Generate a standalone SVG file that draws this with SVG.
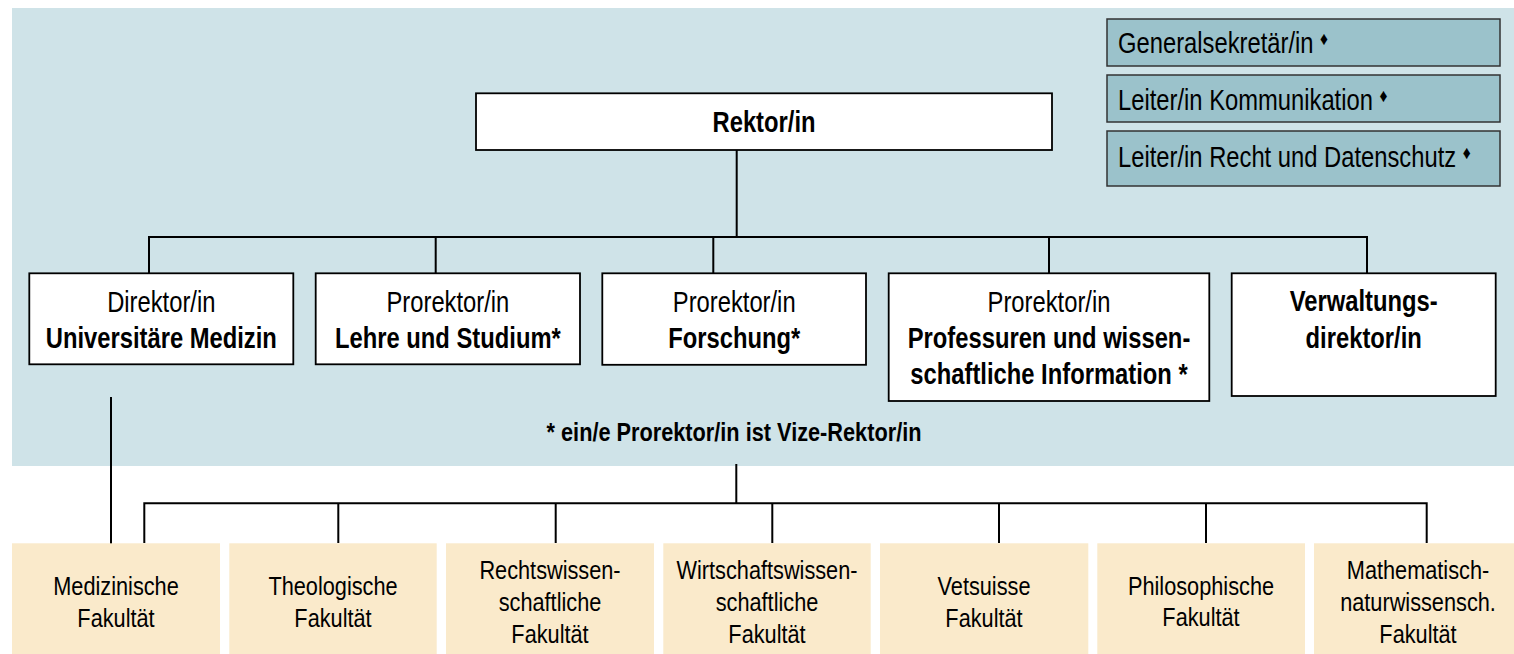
<svg xmlns="http://www.w3.org/2000/svg" width="1514" height="654" viewBox="0 0 1514 654">
<style>
text{font-family:'Liberation Sans',Arial,sans-serif;fill:#000}
.c{text-anchor:middle}
.b{font-weight:bold}
.m{font-size:29px}
.f{font-size:26.5px}
.box{fill:#fff;stroke:#000;stroke-width:1.8}
.side{fill:#9bc2cb;stroke:#333;stroke-width:1.5}
.fac{fill:#faeacb}
.ln{fill:none;stroke:#000;stroke-width:2}
.dia{font-size:19px}
</style>
<rect x="12" y="8" width="1510" height="458" fill="#cfe3e8"/>
<g id="connectors">
<path class="ln" d="M736.7 150V237M149 273V237H1367V273M435.7 237V273M713.3 237V273M1049 237V273"/>
<path class="ln" d="M111 397V545"/>
<path class="ln" d="M736.3 464V503.3M144.3 543V503.3H1426.7V543M338.3 503.3V543M555.7 503.3V543M772.3 503.3V543M999 503.3V543M1206 503.3V543"/>
</g>
<g id="generalsekretaer">
<rect class="side" x="1107" y="19" width="393" height="47"/>
<text class="m" transform="translate(1118,53) scale(0.82,1)">Generalsekretär/in <tspan class="dia" dy="-8">♦</tspan></text>
</g>
<g id="kommunikation">
<rect class="side" x="1107" y="75" width="393" height="47"/>
<text class="m" transform="translate(1118,110) scale(0.82,1)">Leiter/in Kommunikation <tspan class="dia" dy="-8">♦</tspan></text>
</g>
<g id="recht">
<rect class="side" x="1107" y="131" width="393" height="55"/>
<text class="m" transform="translate(1118,167) scale(0.82,1)">Leiter/in Recht und Datenschutz <tspan class="dia" dy="-8">♦</tspan></text>
</g>
<g id="rektor">
<rect class="box" x="476" y="93.3" width="576" height="56.7"/>
<text class="m b c" transform="translate(764,132) scale(0.82,1)">Rektor/in</text>
</g>
<g id="direktor-medizin">
<rect class="box" x="29.3" y="273.3" width="264" height="91"/>
<text class="m c" transform="translate(161.3,312.3) scale(0.82,1)">Direktor/in</text>
<text class="m b c" transform="translate(161.3,348.3) scale(0.82,1)">Universitäre Medizin</text>
</g>
<g id="prorektor-lehre">
<rect class="box" x="315.7" y="273.3" width="264.3" height="91"/>
<text class="m c" transform="translate(447.9,312.3) scale(0.82,1)">Prorektor/in</text>
<text class="m b c" transform="translate(447.9,348.3) scale(0.82,1)">Lehre und Studium*</text>
</g>
<g id="prorektor-forschung">
<rect class="box" x="602.3" y="273.3" width="263.7" height="91.5"/>
<text class="m c" transform="translate(734.2,312.3) scale(0.82,1)">Prorektor/in</text>
<text class="m b c" transform="translate(734.2,348.3) scale(0.82,1)">Forschung*</text>
</g>
<g id="prorektor-professuren">
<rect class="box" x="888.7" y="273.3" width="320.6" height="127.7"/>
<text class="m c" transform="translate(1049,312.3) scale(0.82,1)">Prorektor/in</text>
<text class="m b c" transform="translate(1049,348.3) scale(0.82,1)">Professuren und wissen-</text>
<text class="m b c" transform="translate(1049,384.3) scale(0.82,1)">schaftliche Information *</text>
</g>
<g id="verwaltungsdirektor">
<rect class="box" x="1231.7" y="273.3" width="264" height="122.7"/>
<text class="m b c" transform="translate(1363.7,310.7) scale(0.82,1)">Verwaltungs-</text>
<text class="m b c" transform="translate(1363.7,347.7) scale(0.82,1)">direktor/in</text>
</g>
<g id="footnote">
<text class="b c" style="font-size:26.5px" transform="translate(734,441) scale(0.82,1)">* ein/e Prorektor/in ist Vize-Rektor/in</text>
</g>
<g id="fak-medizin">
<rect class="fac" x="12" y="543.3" width="208" height="112"/>
<text class="f c" transform="translate(116,595) scale(0.82,1)">Medizinische</text>
<text class="f c" transform="translate(116,626.7) scale(0.82,1)">Fakultät</text>
</g>
<g id="fak-theologie">
<rect class="fac" x="229.3" y="543.3" width="207.4" height="112"/>
<text class="f c" transform="translate(333,595) scale(0.82,1)">Theologische</text>
<text class="f c" transform="translate(333,626.7) scale(0.82,1)">Fakultät</text>
</g>
<g id="fak-recht">
<rect class="fac" x="446" y="543.3" width="208" height="112"/>
<text class="f c" transform="translate(550,579) scale(0.82,1)">Rechtswissen-</text>
<text class="f c" transform="translate(550,611) scale(0.82,1)">schaftliche</text>
<text class="f c" transform="translate(550,643) scale(0.82,1)">Fakultät</text>
</g>
<g id="fak-wirtschaft">
<rect class="fac" x="663.3" y="543.3" width="207.4" height="112"/>
<text class="f c" transform="translate(767,579) scale(0.82,1)">Wirtschaftswissen-</text>
<text class="f c" transform="translate(767,611) scale(0.82,1)">schaftliche</text>
<text class="f c" transform="translate(767,643) scale(0.82,1)">Fakultät</text>
</g>
<g id="fak-vetsuisse">
<rect class="fac" x="880" y="543.3" width="208.3" height="112"/>
<text class="f c" transform="translate(984,595) scale(0.82,1)">Vetsuisse</text>
<text class="f c" transform="translate(984,626.7) scale(0.82,1)">Fakultät</text>
</g>
<g id="fak-philosophie">
<rect class="fac" x="1097.3" y="543.3" width="207.7" height="112"/>
<text class="f c" transform="translate(1201,594.5) scale(0.82,1)">Philosophische</text>
<text class="f c" transform="translate(1201,626.3) scale(0.82,1)">Fakultät</text>
</g>
<g id="fak-mathnat">
<rect class="fac" x="1314" y="543.3" width="208" height="112"/>
<text class="f c" transform="translate(1418,578.5) scale(0.82,1)">Mathematisch-</text>
<text class="f c" transform="translate(1418,610.7) scale(0.82,1)">naturwissensch.</text>
<text class="f c" transform="translate(1418,642.7) scale(0.82,1)">Fakultät</text>
</g>
</svg>
